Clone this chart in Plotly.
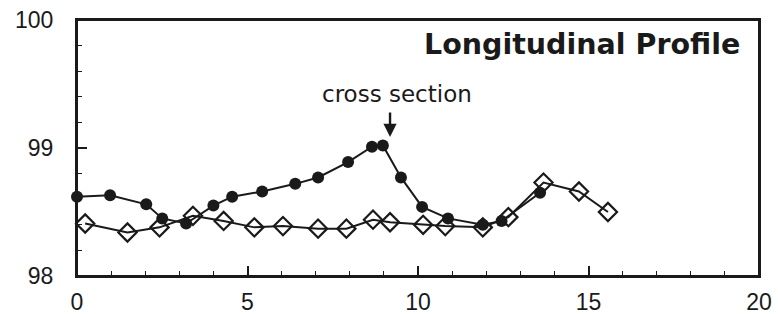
import plotly.graph_objects as go

# Filled-circle series
circle_x = [0, 0.97, 2.03, 2.5, 3.2, 4.0, 4.55, 5.43, 6.4, 7.07, 7.95, 8.65, 8.97,
            9.5, 10.12, 10.88, 11.9, 12.45, 13.58]
circle_y = [98.62, 98.63, 98.56, 98.45, 98.41, 98.55, 98.62, 98.66, 98.72, 98.77,
            98.89, 99.01, 99.02, 98.77, 98.54, 98.45, 98.40, 98.43, 98.65]

# Open-diamond series
diamond_x = [0.24, 1.48, 2.42, 3.4, 4.3, 5.2, 6.04, 7.07, 7.9, 8.68, 9.18, 10.15,
             10.8, 11.9, 12.65, 13.68, 14.72, 15.57]
diamond_y = [98.41, 98.34, 98.38, 98.47, 98.43, 98.38, 98.39, 98.37, 98.37, 98.44,
             98.42, 98.40, 98.39, 98.38, 98.46, 98.73, 98.66, 98.50]

x_ticks = [0, 5, 10, 15, 20]
y_ticks = [98, 99, 100]

title_text = "Longitudinal Profile"
note_text = "cross section"
note_x = 9.18
note_y = 99.086

INK = "#1a1a1a"

fig = go.Figure()
fig.add_trace(go.Scatter(
    x=circle_x, y=circle_y, mode="lines+markers",
    line=dict(color=INK, width=2),
    marker=dict(symbol="circle", size=12, color=INK),
    showlegend=False, cliponaxis=False))
fig.add_trace(go.Scatter(
    x=diamond_x, y=diamond_y, mode="lines+markers",
    line=dict(color=INK, width=2),
    marker=dict(symbol="diamond-open", size=14, color=INK,
                line=dict(width=2.2, color=INK)),
    showlegend=False, cliponaxis=False))

# plot frame
fig.add_shape(type="rect", xref="paper", yref="paper", x0=0, y0=0, x1=1, y1=1,
              line=dict(color=INK, width=2), layer="above")

# title inside plot
fig.add_annotation(x=19.5, y=99.81, xref="x", yref="y", text="<b>" + title_text + "</b>",
                   showarrow=False, xanchor="right", yanchor="middle",
                   font=dict(family="DejaVu Sans", size=28.5, color=INK))
# cross section label
fig.add_annotation(x=9.38, y=99.42, xref="x", yref="y", text=note_text,
                   showarrow=False, xanchor="center", yanchor="middle",
                   font=dict(family="DejaVu Sans", size=23, color=INK))
# arrow
fig.add_annotation(x=note_x, y=note_y, xref="x", yref="y", text="",
                   showarrow=True, ax=0, ay=-26, axref="pixel", ayref="pixel",
                   arrowhead=2, arrowsize=1.1, arrowwidth=2.4, arrowcolor=INK)

fig.update_xaxes(range=[0, 20], tickvals=x_ticks, ticktext=[str(v) for v in x_ticks],
                 ticks="inside", ticklen=10, tickwidth=1.5, tickcolor=INK,
                 minor=dict(dtick=1, ticks="inside", ticklen=5, tickwidth=1.2, tickcolor=INK),
                 showline=True, linecolor=INK, linewidth=2, mirror=True,
                 showgrid=False, zeroline=False, ticklabelstandoff=4, automargin=False,
                 ticklabeloverflow="allow",
                 tickfont=dict(family="Liberation Sans", size=23, color=INK))
fig.update_yaxes(range=[98, 100], tickvals=y_ticks, ticktext=[str(v) for v in y_ticks],
                 ticks="inside", ticklen=10, tickwidth=1.5, tickcolor=INK,
                 minor=dict(dtick=0.2, ticks="inside", ticklen=5, tickwidth=1.2, tickcolor=INK),
                 showline=True, linecolor=INK, linewidth=2, mirror=True,
                 showgrid=False, zeroline=False, ticklabelstandoff=17, automargin=False,
                 ticklabeloverflow="allow",
                 tickfont=dict(family="Liberation Sans", size=23, color=INK))

fig.update_layout(width=778, height=314, margin=dict(l=77, r=19, t=20, b=38),
                  plot_bgcolor="white", paper_bgcolor="white")

fig.write_html("out.html", config={"displayModeBar": False},
               post_script="document.body.style.margin='0';document.body.style.overflow='hidden';")
